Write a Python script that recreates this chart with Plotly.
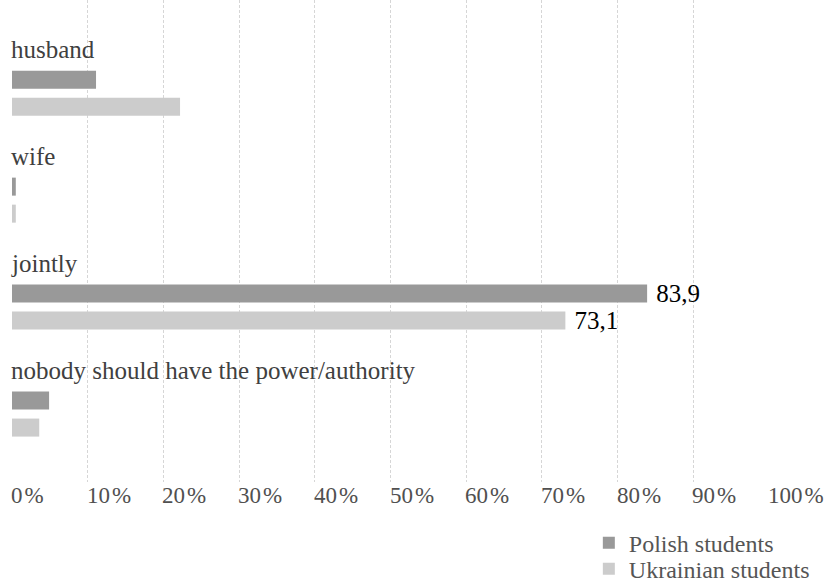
import plotly.graph_objects as go

# Who should have the final say in the family - answers in percent
categories = ["husband", "wife", "jointly", "nobody should have the power/authority"]
polish = [11.1, 0.5, 83.9, 4.9]
ukrainian = [22.2, 0.5, 73.1, 3.6]
series_names = ["Polish students", "Ukrainian students"]
labelled_category = "jointly"
tick_values = [0, 10, 20, 30, 40, 50, 60, 70, 80, 90, 100]
tick_labels = [f"{v}\u200a%" for v in tick_values]

SERIF = "Liberation Serif"
colors = ["#999999", "#cccccc"]


def value_text(values):
    return ["\u00a0" + f"{v:.1f}".replace(".", ",") if c == labelled_category else ""
            for c, v in zip(categories, values)]


fig = go.Figure()
for i, (name, vals) in enumerate(zip(series_names, [polish, ukrainian])):
    fig.add_trace(go.Bar(
        y=categories, x=vals, name=name, orientation="h",
        marker=dict(color=colors[i], line=dict(width=0)),
        text=value_text(vals), textposition="outside",
        textfont=dict(family=SERIF, size=25, color="#000000"),
        constraintext="none", cliponaxis=False,
        legend="legend" if i == 0 else "legend2",
    ))

annotations = []
# category captions above each group of bars
for c in categories:
    annotations.append(dict(
        x=0, y=c, xref="x", yref="y", text=c, showarrow=False,
        xanchor="left", yanchor="middle", xshift=-3, yshift=44,
        font=dict(family=SERIF, size=25, color="#404040"),
    ))
# percent labels, left-aligned on the grid lines
for v, t in zip(tick_values, tick_labels):
    annotations.append(dict(
        x=v, y=0, xref="x", yref="paper", text=t, showarrow=False,
        xanchor="left", yanchor="middle", xshift=-3, yshift=-13,
        font=dict(family=SERIF, size=23, color="#505050"),
    ))

legend_style = dict(
    xref="paper", yref="paper", xanchor="left", yanchor="middle",
    font=dict(family=SERIF, size=24, color="#555555"),
    bgcolor="rgba(0,0,0,0)", borderwidth=0,
)

fig.update_layout(
    width=824, height=583,
    margin=dict(l=12, r=55, t=0, b=101, autoexpand=False),
    paper_bgcolor="white", plot_bgcolor="white",
    barmode="group", bargap=0.495, bargroupgap=0.333,
    showlegend=True,
    legend=dict(x=0.762, y=-0.127, **legend_style),
    legend2=dict(x=0.762, y=-0.181, **legend_style),
    annotations=annotations,
    xaxis=dict(
        range=[0, 100], tickvals=tick_values, showticklabels=False,
        showgrid=True, gridcolor="#d6d6d6", gridwidth=1, griddash="3px,2px",
        zeroline=False, showline=False, ticks="",
    ),
    yaxis=dict(
        type="category", categoryorder="array", categoryarray=categories,
        range=[3.635, -0.871], showticklabels=False, showgrid=False,
        zeroline=False, showline=False, ticks="",
    ),
)

fig.write_html("out.html")
